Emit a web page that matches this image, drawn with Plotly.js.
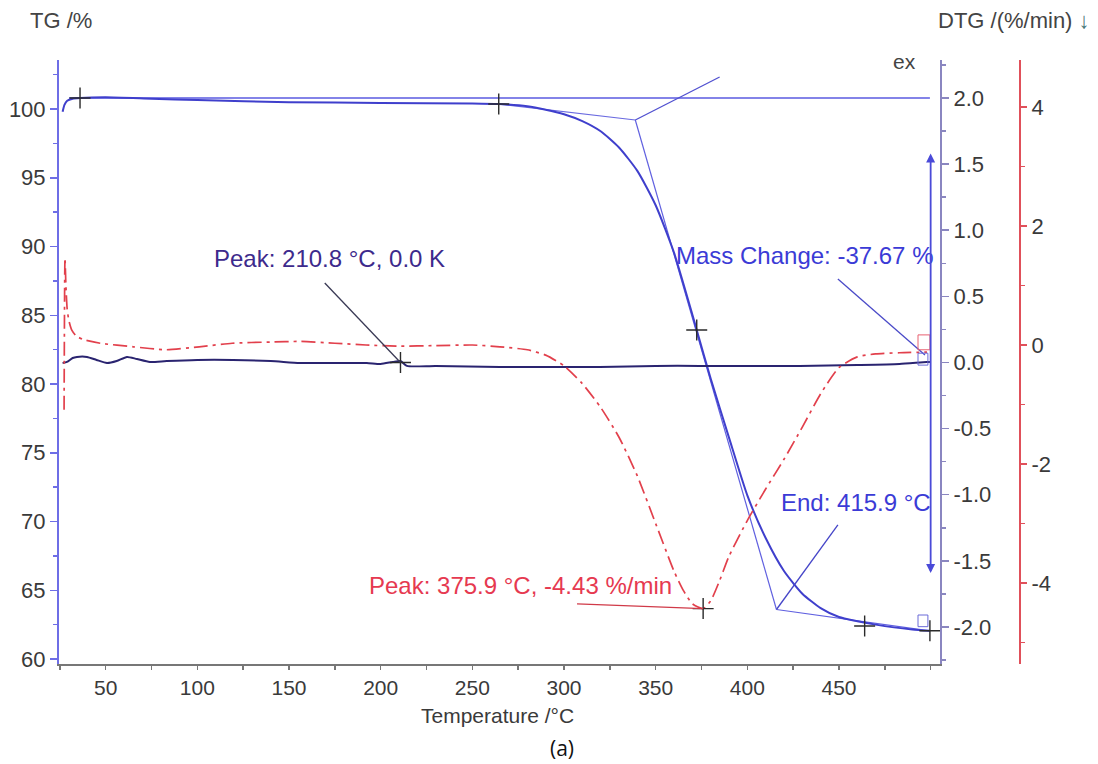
<!DOCTYPE html>
<html>
<head>
<meta charset="utf-8">
<script src="https://cdn.plot.ly/plotly-3.0.1.min.js"></script>
<style>
  html, body { margin: 0; padding: 0; background: #ffffff; }
  #chart { width: 1098px; height: 764px; }
</style>
</head>
<body>
<div id="chart"></div>
<script>
// ---------------- DATA ----------------
// TG curve (Temperature °C, mass %)
const T_TG = [26.5, 27.5, 29, 32, 36, 50, 75, 100, 150, 200, 250, 264.4, 280, 290, 300, 310, 320, 330, 340, 350, 360, 370, 372.4, 380, 390, 400, 410, 420, 430, 440, 450, 460, 470, 480, 490, 499.6];
const TG   = [99.8, 100.3, 100.6, 100.75, 100.8, 100.85, 100.75, 100.65, 100.5, 100.44, 100.4, 100.36, 100.2, 99.95, 99.62, 99.12, 98.38, 97.2, 95.5, 93.0, 89.55, 85.05, 83.93, 80.4, 76.1, 71.9, 68.8, 66.4, 64.75, 63.7, 63.05, 62.75, 62.5, 62.3, 62.15, 62.05];

// DTA curve (K) – middle axis
const T_DTA = [26.5, 28.9, 32, 34.3, 39.8, 45, 50.7, 56, 61.6, 67, 74.1, 83.4, 100, 119.4, 140, 155.9, 175, 192.4, 200, 206.6, 210.8, 214.3, 230, 265, 300, 319.5, 350, 374, 400, 428.5, 460, 483, 497.8, 499.6];
const DTA   = [-0.004, 0.004, 0.034, 0.042, 0.042, 0.019, -0.004, 0.011, 0.042, 0.026, 0.004, 0.011, 0.019, 0.019, 0.011, -0.004, -0.004, -0.004, -0.011, 0.004, 0.011, -0.026, -0.026, -0.034, -0.034, -0.034, -0.026, -0.026, -0.026, -0.026, -0.019, -0.011, 0.004, 0.004];

// DTG curve (%/min) – red axis
const T_DTG = [27.3, 27.8, 28.3, 29, 30, 31.5, 34, 38, 47, 65, 83, 101, 119, 140, 156, 175, 192, 210, 230, 250, 265, 280, 290, 300, 310, 320, 330, 340, 350, 360, 365, 370, 375.9, 380, 385, 390, 400, 410, 420, 430, 440, 450, 460, 470, 483, 498];
const DTG   = [-1.09, 1.46, 1.0, 0.6, 0.4, 0.25, 0.15, 0.09, 0.03, -0.03, -0.08, -0.03, 0.03, 0.05, 0.06, 0.03, 0.0, -0.02, -0.01, 0.0, -0.03, -0.08, -0.17, -0.35, -0.65, -1.05, -1.55, -2.2, -3.0, -3.8, -4.12, -4.35, -4.43, -4.3, -3.95, -3.55, -2.95, -2.42, -1.92, -1.38, -0.82, -0.38, -0.2, -0.15, -0.13, -0.12];

// Evaluation results
const TG_LEVEL = 100.8;
const ONSET_T = 338.9, ONSET_TG = 99.2;
const END_T = 415.9, END_TG = 63.6;
const BASE_START_T = 264.4, BASE_START_TG = 100.36;
const BASE_END_T = 499.6, BASE_END_TG = 62.05;
const PEAK_DTA_T = 210.8, PEAK_DTA_V = 0.0;
const PEAK_DTG_T = 375.9, PEAK_DTG_V = -4.43;
const MASS_CHANGE = -37.67;
const MASS_ARROW_T = 500, MASS_ARROW_TOP = 96.87, MASS_ARROW_BOTTOM = 66.25;

// Evaluation cross markers
const CROSS_TG_T = [36, 264.4, 372.4, 464, 499.6];
const CROSS_TG_V = [100.8, 100.36, 83.93, 62.4, 62.05];

// Tick labels
const X_TICKS = [50, 100, 150, 200, 250, 300, 350, 400, 450];
const TG_TICKS = [60, 65, 70, 75, 80, 85, 90, 95, 100];
const DTA_TICKS = [-2.0, -1.5, -1.0, -0.5, 0.0, 0.5, 1.0, 1.5, 2.0];
const DTA_LABELS = ['-2.0', '-1.5', '-1.0', '-0.5', '0.0', '0.5', '1.0', '1.5', '2.0'];
const DTG_TICKS = [-4, -2, 0, 2, 4];
const DTG_LABELS = ['-4', '-2', '0', '2', '4'];

// ---------------- STYLE ----------------
const FONT = 'Liberation Sans, Arial, sans-serif';
const BLUE = '#3f3fcc';
const BLUE_T = '#3b3bd6';
const NAVY = '#2a2470';
const RED = '#e2404c';
const TICKC = '#3a3a3a';

const crossMarker = {symbol: 'cross-thin', size: 15, line: {color: '#2a2a2a', width: 1.4}};

const traces = [
  {x: [30, BASE_END_T], y: [TG_LEVEL, TG_LEVEL], xaxis: 'x', yaxis: 'y', mode: 'lines',
   line: {color: '#5a5ae0', width: 1.6}},
  {x: [BASE_START_T, ONSET_T], y: [BASE_START_TG, ONSET_TG], mode: 'lines', line: {color: '#6a6ae0', width: 1.2}},
  {x: [ONSET_T, END_T], y: [ONSET_TG, END_TG], mode: 'lines', line: {color: '#6060e0', width: 1.2}},
  {x: [END_T, BASE_END_T], y: [END_TG, BASE_END_TG], mode: 'lines', line: {color: '#6060e0', width: 1.2}},
  {x: T_TG, y: TG, mode: 'lines', line: {color: BLUE, width: 2, shape: 'spline', smoothing: 0.6}},
  {x: T_DTA, y: DTA, yaxis: 'y2', mode: 'lines', line: {color: NAVY, width: 2, shape: 'spline', smoothing: 0.6}},
  {x: T_DTG, y: DTG, yaxis: 'y3', mode: 'lines', line: {color: RED, width: 1.7, dash: '14px,5px,3px,5px', shape: 'spline', smoothing: 0.6}},
  {x: CROSS_TG_T, y: CROSS_TG_V, mode: 'markers', marker: crossMarker},
  {x: [PEAK_DTA_T], y: [PEAK_DTA_V], yaxis: 'y2', mode: 'markers', marker: crossMarker},
  {x: [PEAK_DTG_T], y: [PEAK_DTG_V], yaxis: 'y3', mode: 'markers', marker: crossMarker}
];

const tickFont = {family: FONT, size: 22, color: TICKC};
const xTickFont = {family: FONT, size: 21, color: TICKC};
const annFont = 24;

const layout = {
  width: 1098, height: 764,
  margin: {l: 59, r: 78, t: 60, b: 100},
  paper_bgcolor: '#ffffff', plot_bgcolor: 'rgba(0,0,0,0)',
  showlegend: false,
  xaxis: {
    domain: [0, 0.91675], range: [24.53, 505.1],
    showgrid: false, zeroline: false,
    showline: true, linecolor: '#777777', linewidth: 2,
    ticks: 'outside', ticklen: 4, tickcolor: '#777777', tickwidth: 1.5,
    tickvals: X_TICKS, tickfont: xTickFont,
    minor: {dtick: 25, tick0: 0, ticks: 'outside', ticklen: 4, tickcolor: '#777777', showgrid: false}
  },
  yaxis: {
    range: [59.636, 103.564], showgrid: false, zeroline: false,
    showline: true, linecolor: '#6e6ee6', linewidth: 2,
    ticks: 'outside', ticklen: 7, tickcolor: '#6e6ee6', tickwidth: 1.5,
    tickvals: TG_TICKS, tickfont: tickFont,
    minor: {dtick: 2.5, tick0: 0, ticks: 'outside', ticklen: 4, tickcolor: '#6e6ee6', showgrid: false}
  },
  yaxis2: {
    overlaying: 'y', side: 'right', anchor: 'x',
    range: [-2.280, 2.287], showgrid: false, zeroline: false,
    showline: true, linecolor: '#8a86c0', linewidth: 2,
    ticks: 'outside', ticklen: 7, tickcolor: '#8a86c0', tickwidth: 1.5,
    tickvals: DTA_TICKS, ticktext: DTA_LABELS, tickfont: tickFont,
    minor: {dtick: 0.25, tick0: 0, ticks: 'outside', ticklen: 4, tickcolor: '#8a86c0', showgrid: false}
  },
  yaxis3: {
    overlaying: 'y', side: 'right', anchor: 'free', position: 1,
    range: [-5.361, 4.790], showgrid: false, zeroline: false,
    showline: true, linecolor: '#e0505a', linewidth: 2,
    ticks: 'outside', ticklen: 6, tickcolor: '#e0505a', tickwidth: 1.5,
    tickvals: DTG_TICKS, ticktext: DTG_LABELS, tickfont: tickFont,
    minor: {dtick: 1, tick0: 0, ticks: 'outside', ticklen: 4, tickcolor: '#e0505a', showgrid: false}
  },
  shapes: [
    // leader lines
    {type: 'line', xref: 'x', yref: 'y', x0: ONSET_T, y0: ONSET_TG, x1: 384.9, y1: 102.33, line: {color: '#5050d0', width: 1.3}},
    {type: 'line', xref: 'x', yref: 'y2', x0: PEAK_DTA_T, y0: PEAK_DTA_V, x1: 169.5, y1: 0.601, line: {color: '#3a3a55', width: 1.3}},
    {type: 'line', xref: 'x', yref: 'y2', x0: 496.9, y0: 0.057, x1: 449.4, y1: 0.631, line: {color: '#4a4ac8', width: 1.3}},
    {type: 'line', xref: 'x', yref: 'y3', x0: PEAK_DTG_T, y0: PEAK_DTG_V, x1: 307.1, y1: -4.35, line: {color: '#d03a48', width: 1.3}},
    {type: 'line', xref: 'x', yref: 'y', x0: END_T, y0: END_TG, x1: 449.4, y1: 69.75, line: {color: '#4545c8', width: 1.3}},
    // small evaluation-range markers at the end of the curves
    {type: 'rect', xref: 'x', yref: 'y3', x0: 493.1, x1: 499.6, y0: -0.08, y1: 0.17, line: {color: '#e86070', width: 1}},
    {type: 'rect', xref: 'x', yref: 'y2', x0: 493.1, x1: 498.5, y0: -0.02, y1: 0.07, line: {color: '#6a6ad8', width: 1}},
    {type: 'rect', xref: 'x', yref: 'y', x0: 493.1, x1: 498.5, y0: 62.35, y1: 63.2, line: {color: '#6a6ad8', width: 1}}
  ],
  annotations: [
    {xref: 'paper', yref: 'paper', x: -0.0323, y: 1.0662, xanchor: 'left', yanchor: 'middle', showarrow: false,
     text: 'TG /%', font: {family: FONT, size: 22, color: '#444444'}},
    {xref: 'paper', yref: 'paper', x: 1.0749, y: 1.0662, xanchor: 'right', yanchor: 'middle', showarrow: false,
     text: 'DTG /(%/min) <span style="color:#4a7a7a">↓</span>', font: {family: FONT, size: 22, color: '#444444'}},
    {xref: 'paper', yref: 'paper', x: 0.8803, y: 0.9967, xanchor: 'center', yanchor: 'middle', showarrow: false,
     text: 'ex', font: {family: FONT, size: 21, color: '#444444'}},
    {xref: 'paper', yref: 'paper', x: 0.4568, y: -0.0845, xanchor: 'center', yanchor: 'middle', showarrow: false,
     text: 'Temperature /°C', font: {family: FONT, size: 21, color: '#3a3a3a'}},
    {xref: 'paper', yref: 'paper', x: 0.5234, y: -0.1391, xanchor: 'center', yanchor: 'middle', showarrow: false,
     text: '(a)', font: {family: 'Open Sans, Noto Sans, sans-serif', size: 21, color: '#111111'}},
    {xref: 'x', yref: 'y', x: 396.0, y: 104.15, xanchor: 'center', yanchor: 'middle', showarrow: false,
     text: 'Onset: ' + ONSET_T.toFixed(1) + ' °C', font: {family: FONT, size: annFont, color: BLUE_T}},
    {xref: 'x', yref: 'y', x: 172.35, y: 89.16, xanchor: 'center', yanchor: 'middle', showarrow: false,
     text: 'Peak: ' + PEAK_DTA_T.toFixed(1) + ' °C, ' + PEAK_DTA_V.toFixed(1) + ' K', font: {family: FONT, size: annFont, color: '#3d2a8c'}},
    {xref: 'x', yref: 'y', x: 431.4, y: 89.31, xanchor: 'center', yanchor: 'middle', showarrow: false,
     text: 'Mass Change: ' + MASS_CHANGE.toFixed(2) + ' %', font: {family: FONT, size: annFont, color: BLUE_T}},
    {xref: 'x', yref: 'y', x: 276.5, y: 65.38, xanchor: 'center', yanchor: 'middle', showarrow: false,
     text: 'Peak: ' + PEAK_DTG_T.toFixed(1) + ' °C, ' + PEAK_DTG_V.toFixed(2) + ' %/min', font: {family: FONT, size: annFont, color: '#e63950'}},
    {xref: 'x', yref: 'y', x: 459.5, y: 71.35, xanchor: 'center', yanchor: 'middle', showarrow: false,
     text: 'End: ' + END_T.toFixed(1) + ' °C', font: {family: FONT, size: annFont, color: BLUE_T}},
    // mass change double arrow
    {xref: 'x', yref: 'y', axref: 'x', ayref: 'y', x: MASS_ARROW_T, y: MASS_ARROW_BOTTOM, ax: MASS_ARROW_T, ay: MASS_ARROW_TOP,
     text: '', showarrow: true, arrowhead: 2, startarrowhead: 2, arrowside: 'end+start', arrowsize: 1, startarrowsize: 1,
     arrowwidth: 1.8, arrowcolor: '#4a4ad8', standoff: 0, startstandoff: 0}
  ]
};

Plotly.newPlot('chart', traces, layout, {displayModeBar: false, staticPlot: true});
</script>
</body>
</html>
